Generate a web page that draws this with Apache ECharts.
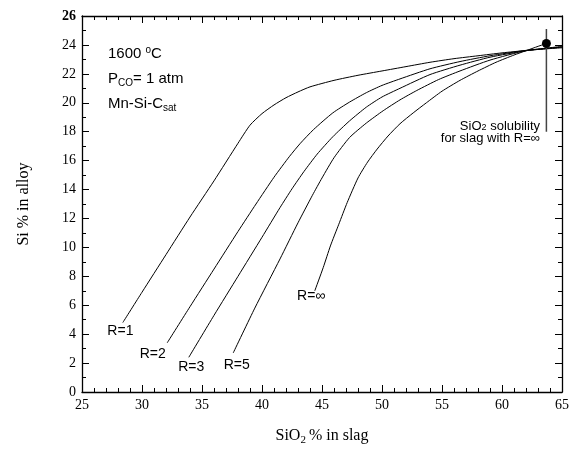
<!DOCTYPE html>
<html>
<head>
<meta charset="utf-8">
<script src="https://cdn.jsdelivr.net/npm/echarts@6/dist/echarts.min.js"></script>
<style>
  html, body { margin: 0; padding: 0; background: #fff; }
  #main { width: 574px; height: 451px; }
</style>
</head>
<body>
<div id="main"></div>
<script>
// curves: [SiO2 % in slag, Si % in alloy]
var curveR1 = [[28.4,4.8],[30,6.9],[32,9.5],[34,12.1],[36,14.6],[38,17.2],[39,18.45],[40,19.25],[41,19.85],[42,20.35],[43,20.75],[44,21.1],[46,21.55],[48,21.9],[50,22.2],[52,22.5],[54,22.8],[56,23.05],[58,23.25],[60,23.45],[62,23.62],[65,23.9]];
var curveR2 = [[32.1,3.4],[34,5.9],[36,8.5],[38,11.1],[39.5,13.0],[41,14.85],[42.3,16.3],[43.2,17.2],[44.3,18.15],[45.9,19.3],[47.3,20.05],[48.7,20.7],[50,21.2],[51.5,21.65],[54,22.35],[56.5,22.85],[59,23.25],[62,23.62],[65,23.85]];
var curveR3 = [[33.9,2.4],[36,5.3],[38,8.0],[40,10.7],[41.5,12.75],[42.5,14.05],[43.5,15.25],[44.6,16.45],[45.9,17.65],[47.3,18.75],[48.7,19.7],[50,20.4],[51.5,21.0],[54,21.95],[56.5,22.6],[59,23.15],[62,23.6],[65,23.85]];
var curveR5 = [[37.6,2.7],[39.4,5.8],[41.5,9.2],[43,11.7],[44.2,13.6],[45,14.8],[46,16.2],[47.3,17.6],[48.7,18.6],[50.1,19.45],[51.5,20.2],[52.9,20.85],[54.7,21.6],[56.5,22.2],[59,22.95],[62,23.6],[65,23.8]];
var curveRinf = [[44.4,7.0],[45.1,8.6],[45.7,10.1],[46.4,11.6],[47.1,13.1],[48.0,14.8],[48.8,15.9],[49.6,16.8],[50.5,17.7],[51.5,18.55],[52.6,19.3],[53.7,20.0],[55,20.8],[56.5,21.55],[58,22.2],[59.5,22.8],[61,23.3],[62,23.6],[63,23.9],[63.7,24.1]];
var solubilityPoint = [[63.7, 24.1]];
var solubilityLine = [[63.7, 25.1], [63.7, 18.0]];

var curveNames = ['R=1', 'R=2', 'R=3', 'R=5', 'R=\u221E'];
var curveLabelAt = [[28.2, 4.2], [30.9, 2.6], [34.1, 1.7], [37.9, 1.85], [44.1, 6.6]];

var xMin = 25, xMax = 65, xStep = 5;
var yMin = 0, yMax = 26, yStep = 2;

var myChart = echarts.init(document.getElementById('main'));

var serif = '"Liberation Serif", "Times New Roman", serif';
var sans = '"Liberation Sans", Arial, sans-serif';

function xAxisOf(pos, show) {
    return {
        type: 'value', position: pos, min: xMin, max: xMax, interval: xStep,
        axisLine: { show: true, onZero: false, lineStyle: { color: '#000', width: 1.3 } },
        axisTick: { show: true, inside: true, length: 7, lineStyle: { color: '#000', width: 1 } },
        minorTick: { show: true, splitNumber: 5, length: 4, lineStyle: { color: '#000', width: 1 } },
        splitLine: { show: false },
        axisLabel: { show: show, color: '#000', fontFamily: serif, fontSize: 14, margin: 6 },
        name: show ? '{a|SiO}{s|2}{a|% in slag}' : '',
        nameLocation: 'middle', nameGap: 34,
        nameTextStyle: {
            rich: {
                a: { fontFamily: serif, fontSize: 16, color: '#000', lineHeight: 20 },
                s: { fontFamily: serif, fontSize: 11, color: '#000', lineHeight: 20, verticalAlign: 'bottom', padding: [0, 3, 0, 0] }
            }
        }
    };
}

function yAxisOf(pos, show) {
    return {
        type: 'value', position: pos, min: yMin, max: yMax, interval: yStep,
        axisLine: { show: true, onZero: false, lineStyle: { color: '#000', width: 1.3 } },
        axisTick: { show: true, inside: true, length: 7, lineStyle: { color: '#000', width: 1 } },
        minorTick: { show: true, splitNumber: 2, length: 4, lineStyle: { color: '#000', width: 1 } },
        splitLine: { show: false },
        axisLabel: {
            show: show, color: '#000', fontFamily: serif, fontSize: 14, margin: 6,
            formatter: function (v) { return v === yMax ? '{b|' + v + '}' : '' + v; },
            rich: { b: { fontFamily: serif, fontSize: 14, fontWeight: 'bold', color: '#000' } }
        },
        name: show ? 'Si % in alloy' : '',
        nameLocation: 'middle', nameGap: 50,
        nameTextStyle: { fontFamily: serif, fontSize: 16, color: '#000' }
    };
}

function curve(data) {
    return {
        type: 'line', data: data, xAxisIndex: 0, yAxisIndex: 0,
        showSymbol: false, symbol: 'none', smooth: 0.2,
        lineStyle: { color: '#000', width: 1 }, silent: true
    };
}

var option = {
    animation: false,
    grid: { left: 82, right: 12, top: 16, bottom: 57 },
    xAxis: [xAxisOf('bottom', true), xAxisOf('top', false)],
    yAxis: [yAxisOf('left', true), yAxisOf('right', false)],
    series: [
        curve(curveR1), curve(curveR2), curve(curveR3), curve(curveR5), curve(curveRinf),
        {
            type: 'line', data: solubilityLine, showSymbol: false, symbol: 'none',
            lineStyle: { color: '#444', width: 1.5 }, silent: true
        },
        {
            type: 'scatter', data: solubilityPoint, symbolSize: 9, z: 5,
            itemStyle: { color: '#000', opacity: 1 }, silent: true
        }
    ]
};
myChart.setOption(option);

// text labels
var graphics = [];
curveNames.forEach(function (name, i) {
    var p = myChart.convertToPixel({ gridIndex: 0 }, curveLabelAt[i]);
    graphics.push({
        type: 'text', x: p[0], y: p[1],
        style: { text: name, fontFamily: sans, fontSize: 14, fill: '#000', align: 'center', verticalAlign: 'middle' }
    });
});

var noteRich = {
    a: { fontFamily: sans, fontSize: 15, fill: '#000', lineHeight: 18 },
    sup: { fontFamily: sans, fontSize: 10, fill: '#000', lineHeight: 18, verticalAlign: 'top' },
    sub: { fontFamily: sans, fontSize: 10, fill: '#000', lineHeight: 18, verticalAlign: 'bottom' }
};
graphics.push({
    type: 'text', x: 108, y: 45,
    style: { text: '{a|1600 }{sup|o}{a|C}', rich: noteRich }
});
graphics.push({
    type: 'text', x: 108, y: 70,
    style: { text: '{a|P}{sub|CO}{a|= 1 atm}', rich: noteRich }
});
graphics.push({
    type: 'text', x: 108, y: 95,
    style: { text: '{a|Mn-Si-C}{sub|sat}', rich: noteRich }
});
graphics.push({
    type: 'text', x: 540, y: 120,
    style: {
        text: '{a|SiO}{sub|2}{a| solubility}\n{a|for slag with R=\u221E}', align: 'right',
        rich: {
            a: { fontFamily: sans, fontSize: 13, fill: '#000', lineHeight: 12, align: 'right' },
            sub: { fontFamily: sans, fontSize: 9, fill: '#000', lineHeight: 12, verticalAlign: 'bottom' }
        }
    }
});
myChart.setOption({ graphic: graphics });
</script>
</body>
</html>
